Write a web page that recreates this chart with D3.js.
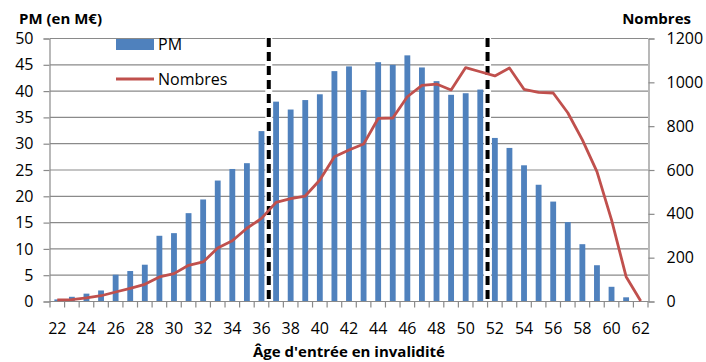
<!DOCTYPE html>
<html>
<head>
<meta charset="utf-8">
<script src="https://cdn.jsdelivr.net/npm/d3@7/dist/d3.min.js"></script>
<style>
  html, body { margin: 0; padding: 0; background: #fff; }
  svg { display: block; font-family: "Open Sans", "DejaVu Sans", sans-serif; }
</style>
</head>
<body>
<svg id="chart" width="706" height="362"></svg>
<script>
// Ages d'entrée en invalidité (catégories de l'axe horizontal)
const ages = d3.range(22, 63);
// Provisions mathématiques par âge, en M€ (barres, axe de gauche)
const pm = [0.3, 0.8, 1.4, 2.0, 5.0, 5.7, 6.9, 12.4, 12.9, 16.7,
            19.3, 22.9, 25.1, 26.2, 32.3, 37.9, 36.4, 38.2, 39.3, 43.7,
            44.6, 40.1, 45.4, 44.9, 46.7, 44.4, 41.8, 39.2, 39.5, 40.2,
            31.0, 29.1, 25.8, 22.1, 18.9, 15.0, 10.8, 6.8, 2.7, 0.7, 0];
// Nombre d'invalides par âge (courbe, axe de droite)
const nombres = [5, 6, 14, 24, 41, 58, 76, 110, 125, 163,
                 178, 242, 275, 332, 377, 450, 467, 479, 552, 658,
                 689, 716, 833, 835, 932, 984, 990, 963, 1065, 1046,
                 1027, 1063, 966, 952, 949, 859, 735, 590, 370, 111, 0];
// Graduations des axes
const leftTicks = d3.range(0, 51, 5);
const rightTicks = d3.range(0, 1201, 200);
const xLabels = ages.filter(a => a % 2 === 0);
// Limites des tranches d'âge marquées en pointillés (entre 36/37 et 51/52)
const separators = [37, 52];

const margin = { left: 50, right: 58, top: 38, bottom: 61 };
const W = 706, H = 362;
const x0 = margin.left, x1 = W - margin.right;
const y0 = H - margin.bottom, y1 = margin.top;

const svg = d3.select("#chart");
const gridColor = "#8a8a8a";

const x = d3.scaleBand().domain(ages).range([x0, x1]).padding(0);
const yL = d3.scaleLinear().domain([0, 50]).range([y0, y1]);
const yR = d3.scaleLinear().domain([0, 1200]).range([y0, y1]);

// Quadrillage horizontal
svg.append("g").selectAll("line").data(leftTicks).join("line")
  .attr("x1", x0).attr("x2", x1)
  .attr("y1", d => yL(d) + 0.5).attr("y2", d => yL(d) + 0.5)
  .attr("stroke", gridColor).attr("stroke-width", 1.2);

// Axe gauche
const axL = svg.append("g").attr("transform", `translate(${x0 - 0.5},0.5)`)
  .call(d3.axisLeft(yL).tickValues(leftTicks).tickSize(6).tickPadding(10));
axL.select(".domain").attr("stroke", gridColor).attr("stroke-width", 1.2);
axL.selectAll(".tick line").attr("stroke", gridColor).attr("stroke-width", 1.2);
axL.selectAll("text").attr("font-size", 16).attr("fill", "#000")
  .attr("font-family", "'Open Sans', sans-serif");

// Axe droit
const axR = svg.append("g").attr("transform", `translate(${x1 + 0.5},0.5)`)
  .call(d3.axisRight(yR).tickValues(rightTicks).tickFormat(d3.format("d"))
    .tickSize(6).tickPadding(12));
axR.select(".domain").attr("stroke", gridColor).attr("stroke-width", 1.2);
axR.selectAll(".tick line").attr("stroke", gridColor).attr("stroke-width", 1.2);
axR.selectAll("text").attr("font-size", 16).attr("fill", "#000")
  .attr("font-family", "'Open Sans', sans-serif");

// Axe des âges : graduations aux limites des catégories
const axB = svg.append("g").attr("transform", `translate(0,${y0 + 0.5})`);
axB.append("line").attr("x1", x0 - 0.5).attr("x2", x1 + 0.5)
  .attr("stroke", gridColor).attr("stroke-width", 1.2);
const bounds = ages.map(a => x(a)).concat([x1]);
axB.selectAll(".tk").data(bounds).join("line").attr("class", "tk")
  .attr("x1", d => d).attr("x2", d => d)
  .attr("y1", 0).attr("y2", 6)
  .attr("stroke", gridColor).attr("stroke-width", 1.2);
axB.selectAll("text").data(xLabels).join("text")
  .attr("x", d => x(d) + x.bandwidth() / 2).attr("y", 32)
  .attr("text-anchor", "middle").attr("font-size", 16).text(d => d);

// Barres PM
const barW = x.bandwidth() * 0.4;
svg.append("g").selectAll("rect").data(ages).join("rect")
  .attr("x", (d) => x(d) + (x.bandwidth() - barW) / 2)
  .attr("width", barW)
  .attr("y", (d, i) => yL(pm[i]))
  .attr("height", (d, i) => y0 - yL(pm[i]))
  .attr("fill", "#4f81bd");

// Traits verticaux en pointillés
const sep = svg.append("g");
separators.forEach(a => {
  sep.append("line").attr("x1", x(a)).attr("x2", x(a)).attr("y1", y1).attr("y2", y0)
    .attr("stroke", "#fff").attr("stroke-width", 7);
  sep.append("line").attr("x1", x(a)).attr("x2", x(a)).attr("y1", y1).attr("y2", y0)
    .attr("stroke", "#000").attr("stroke-width", 4).attr("stroke-dasharray", "9,5");
});

// Courbe des nombres
const line = d3.line()
  .x((d, i) => x(ages[i]) + x.bandwidth() / 2)
  .y(d => yR(d));
svg.append("path").datum(nombres)
  .attr("d", line).attr("fill", "none")
  .attr("stroke", "#c0504d").attr("stroke-width", 2.8)
  .attr("stroke-linejoin", "round");

// Légende
const lg = svg.append("g");
lg.append("rect").attr("x", 116).attr("y", 39).attr("width", 38).attr("height", 11)
  .attr("fill", "#4f81bd");
lg.append("text").attr("x", 158).attr("y", 50).attr("font-size", 16).text("PM");
lg.append("line").attr("x1", 116).attr("x2", 154).attr("y1", 79).attr("y2", 79)
  .attr("stroke", "#c0504d").attr("stroke-width", 2.8);
lg.append("text").attr("x", 158).attr("y", 85).attr("font-size", 16).text("Nombres");

// Titres des axes
svg.append("text").attr("x", 19).attr("y", 24).attr("font-size", 15)
  .attr("font-weight", "bold").text("PM (en M€)");
svg.append("text").attr("x", 691).attr("y", 24).attr("font-size", 15)
  .attr("text-anchor", "end").attr("font-weight", "bold").text("Nombres");
svg.append("text").attr("x", 349).attr("y", 357).attr("font-size", 15)
  .attr("text-anchor", "middle").attr("font-weight", "bold")
  .text("Âge d'entrée en invalidité");
</script>
</body>
</html>
